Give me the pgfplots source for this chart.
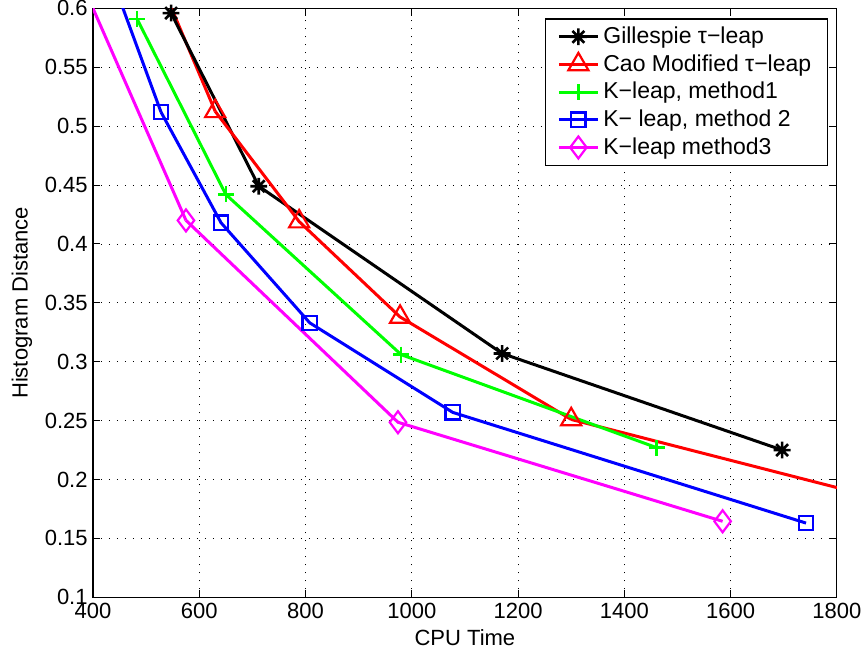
\documentclass[border=0pt]{standalone}
\usepackage{fontspec}
\setmainfont{Liberation Sans}
\usepackage{pgfplots}
\pgfplotsset{compat=1.18}
\definecolor{mred}{rgb}{1,0,0}
\definecolor{mgreen}{rgb}{0,1,0}
\definecolor{mblue}{rgb}{0,0,1}
\definecolor{mmag}{rgb}{1,0,1}
\pgfdeclareplotmark{ast8}{%
  \pgfpathmoveto{\pgfqpoint{-\pgfplotmarksize}{0pt}}\pgfpathlineto{\pgfqpoint{\pgfplotmarksize}{0pt}}%
  \pgfpathmoveto{\pgfqpoint{0pt}{-\pgfplotmarksize}}\pgfpathlineto{\pgfqpoint{0pt}{\pgfplotmarksize}}%
  \pgfpathmoveto{\pgfqpoint{-0.707\pgfplotmarksize}{-0.707\pgfplotmarksize}}\pgfpathlineto{\pgfqpoint{0.707\pgfplotmarksize}{0.707\pgfplotmarksize}}%
  \pgfpathmoveto{\pgfqpoint{-0.707\pgfplotmarksize}{0.707\pgfplotmarksize}}\pgfpathlineto{\pgfqpoint{0.707\pgfplotmarksize}{-0.707\pgfplotmarksize}}%
  \pgfusepathqstroke}
\newcommand\tickfont{\fontsize{11pt}{13pt}\selectfont}
\newcommand\legfont{\fontsize{11.5pt}{13.8pt}\selectfont}
\begin{document}
\begin{tikzpicture}
\begin{axis}[name=ax,
  scale only axis, width=372pt, height=294.5pt,
  xmin=400, xmax=1800, ymin=0.1, ymax=0.6,
  xtick={400,600,800,1000,1200,1400,1600,1800},
  xticklabels={400,600,800,1000,1200,1400,1600,1800},
  ytick={0.1,0.15,0.2,0.25,0.3,0.35,0.4,0.45,0.5,0.55,0.6},
  yticklabels={0.1,0.15,0.2,0.25,0.3,0.35,0.4,0.45,0.5,0.55,0.6},
  /pgf/number format/assume math mode=true,
  tick label style={font=\tickfont, black},
  yticklabel style={inner ysep=0.3pt, inner xsep=2.5pt},
  xticklabel style={inner ysep=2.5pt},
  grid=major,
  major grid style={black, line width=0.4pt, dash pattern=on 0.5pt off 3.5pt},
  tick align=inside, major tick length=3.7pt,
  axis line style={black, line width=0.6pt},
  every tick/.style={black, line width=0.5pt},
  xlabel={CPU Time}, ylabel={Histogram Distance},
  xlabel style={font=\tickfont, at={(axis description cs:0.5,0)}, anchor=center, yshift=-20pt},
  ylabel style={font=\tickfont, at={(axis description cs:-0.0954,0.5)}, anchor=center},
  legend style={font=\legfont, at={(rel axis cs:1,1)}, xshift=-4.5pt, yshift=-5pt, anchor=north east,
    draw=black, line width=0.6pt, cells={anchor=west}, row sep=0pt, inner xsep=6pt, inner ysep=2pt},
  legend cell align=left,
  legend image code/.code={\draw[mark repeat=2,mark phase=2] plot coordinates {(0pt,0pt)(9.75pt,0pt)(19.5pt,0pt)};},
]
% extensions of lines beyond the axis (no marks)
\addplot[forget plot, mred, line width=1.5pt] coordinates {(500,0.651)(630,0.5126)};
\addplot[forget plot, mred, line width=1.5pt] coordinates {(1300,0.251)(2000,0.170)};
\addplot[forget plot, mblue, line width=1.5pt] coordinates {(400,0.6695)(528,0.512)};
\addplot[forget plot, mmag, line width=1.5pt] coordinates {(380,0.6206)(575,0.420)};

\addplot[black, line width=1.5pt, mark=ast8, mark size=4.2pt, mark options={line width=1.3pt}]
  coordinates {(547,0.596)(712,0.449)(1170,0.307)(1697,0.225)};
\addlegendentry{Gillespie τ−leap}
\addplot[mred, line width=1.5pt, mark=triangle, mark size=5.8pt, mark options={line width=1.1pt}]
  coordinates {(630,0.5126)(788,0.419)(978,0.338)(1300,0.251)};
\addlegendentry{Cao Modified τ−leap}
\addplot[mgreen, line width=1.5pt, mark=+, mark size=4pt, mark options={line width=1.3pt}]
  coordinates {(483,0.591)(650,0.442)(980,0.306)(1461,0.227)};
\addlegendentry{K−leap, method1}
\addplot[mblue, line width=1.5pt, mark=square, mark size=3.6pt, mark options={line width=1.1pt}]
  coordinates {(528,0.512)(641,0.418)(808,0.333)(1077,0.257)(1742,0.163)};
\addlegendentry{K− leap, method 2}
\addplot[mmag, line width=1.5pt, mark=diamond, mark size=5.5pt, mark options={line width=1.1pt}]
  coordinates {(575,0.420)(974,0.2486)(1585,0.1645)};
\addlegendentry{K−leap method3}
\end{axis}
\path (ax.south west) ++(-46.5pt,-30.5pt);
\path (ax.north east) ++(15.5pt,3.5pt);
\end{tikzpicture}
\end{document}
